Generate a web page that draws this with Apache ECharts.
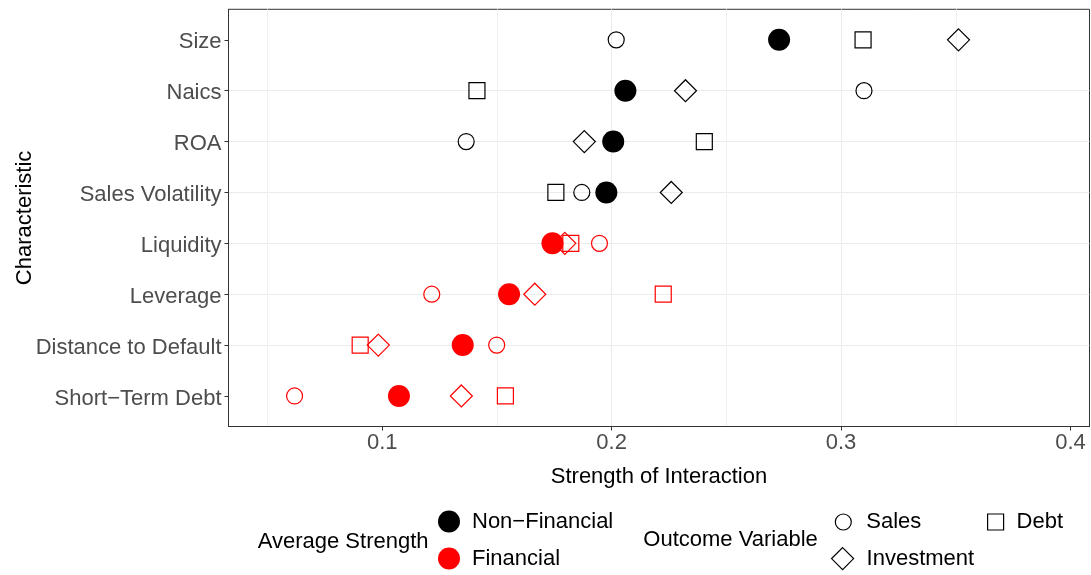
<!DOCTYPE html>
<html><head><meta charset="utf-8">
<script src="https://cdn.jsdelivr.net/npm/echarts@6/dist/echarts.min.js"></script>
<style>html,body{margin:0;padding:0;background:#fff}#c{width:1091px;height:575px}</style>
</head><body><div id="c"></div>
<script>
// ---- data (top to bottom) ----
const categories = ['Size', 'Naics', 'ROA', 'Sales Volatility', 'Liquidity', 'Leverage', 'Distance to Default', 'Short\u2212Term Debt'];
const groups = ['Non\u2212Financial', 'Non\u2212Financial', 'Non\u2212Financial', 'Non\u2212Financial', 'Financial', 'Financial', 'Financial', 'Financial'];
const avgStrength = [0.2730, 0.2060, 0.2007, 0.1977, 0.1742, 0.1553, 0.1351, 0.1073];
const sales = [0.2020, 0.3100, 0.1366, 0.1870, 0.1947, 0.1216, 0.1499, 0.0618];
const investment = [0.3512, 0.2322, 0.1881, 0.2260, 0.1796, 0.1665, 0.0983, 0.1345];
const debt = [0.3096, 0.1413, 0.2404, 0.1757, 0.1822, 0.2225, 0.0904, 0.1537];
const xTicks = [0.1, 0.2, 0.3, 0.4];
const groupNames = ['Non\u2212Financial', 'Financial'];
const groupColors = { 'Non\u2212Financial': '#000000', 'Financial': '#ff0000' };

const FONT = '"Liberation Sans", Arial, Helvetica, sans-serif';
const FS = 22;
const yTickValues = categories.map((c, i) => i + 1);

function outcomePoints(values) {
  return values.map((v, i) => ({ value: [v, i + 1], itemStyle: { borderColor: groupColors[groups[i]] } }));
}
function avgPoints(group) {
  const out = [];
  avgStrength.forEach((v, i) => { if (groups[i] === group) out.push([v, i + 1]); });
  return out;
}
const hollow = { color: 'rgba(0,0,0,0)', borderColor: '#000', borderWidth: 1.2, opacity: 1 };
function legendText(pad) { return { fontSize: FS, color: '#000', fontFamily: FONT, padding: [0, 0, 0, pad] }; }

const chart = echarts.init(document.getElementById('c'), null, { renderer: 'canvas' });
const option = {
  animation: false,
  backgroundColor: '#ffffff',
  textStyle: { fontFamily: FONT },
  grid: { left: 228.5, top: 9.3, width: 861, height: 417.2, containLabel: false, outerBoundsMode: 'none', show: true, borderColor: '#333333', borderWidth: 1, backgroundColor: 'rgba(0,0,0,0)' },
  xAxis: {
    type: 'value', min: 0.033, max: 0.4083, splitNumber: 4, minInterval: 0.1, maxInterval: 0.1,
    axisLine: { show: true, onZero: false, lineStyle: { color: '#333333', width: 1 } },
    axisTick: { show: true, length: 4, customValues: xTicks, lineStyle: { color: '#333333' } },
    axisLabel: { customValues: xTicks, formatter: v => Number(v).toFixed(1), fontSize: FS, color: '#4d4d4d', margin: 5, fontFamily: FONT },
    splitLine: { show: true, showMinLine: false, showMaxLine: false, lineStyle: { color: '#ebebeb', width: 1 } },
    minorTick: { show: false, splitNumber: 2 },
    minorSplitLine: { show: true, lineStyle: { color: '#f0f0f0', width: 1 } },
    name: 'Strength of Interaction', nameLocation: 'middle', nameGap: 39, nameMoveOverlap: false,
    nameTextStyle: { fontSize: FS, color: '#000', fontFamily: FONT }
  },
  yAxis: {
    type: 'value', inverse: true, min: 0.4, max: 8.6, splitNumber: 8, minInterval: 1, maxInterval: 1,
    axisLine: { show: true, onZero: false, lineStyle: { color: '#333333', width: 1 } },
    axisTick: { show: true, length: 4, customValues: yTickValues, lineStyle: { color: '#333333' } },
    axisLabel: {
      customValues: yTickValues,
      formatter: v => { const c = categories[Math.round(v) - 1]; return c ? '{a|' + c + '}' : ''; },
      margin: 7,
      rich: { a: { fontSize: FS, color: '#4d4d4d', fontFamily: FONT, padding: [5, 0, 0, 0] } }
    },
    splitLine: { show: true, showMinLine: false, showMaxLine: false, lineStyle: { color: '#ebebeb', width: 1 } },
    name: 'Characteristic', nameLocation: 'middle', nameGap: 193, nameRotate: 90, nameMoveOverlap: false,
    nameTextStyle: { fontSize: FS, color: '#000', fontFamily: FONT }
  },
  legend: [
    {
      data: groupNames.map(n => ({ name: n, icon: 'circle', itemStyle: { color: groupColors[n], borderWidth: 0, opacity: 1 } })),
      orient: 'vertical', left: 438, top: 510.5, padding: 0, itemWidth: 22, itemHeight: 22, itemGap: 15,
      selectedMode: false, textStyle: legendText(7)
    },
    {
      data: [{ name: 'Sales', icon: 'circle', itemStyle: hollow }],
      left: 834.7, top: 511, padding: 0, itemWidth: 16, itemHeight: 16,
      selectedMode: false, textStyle: legendText(10)
    },
    {
      data: [{ name: 'Investment', icon: 'diamond', itemStyle: hollow }],
      left: 831, top: 547, padding: 0, itemWidth: 22, itemHeight: 22,
      selectedMode: false, textStyle: legendText(8)
    },
    {
      data: [{ name: 'Debt', icon: 'rect', itemStyle: hollow }],
      left: 987, top: 511, padding: 0, itemWidth: 16, itemHeight: 16,
      selectedMode: false, textStyle: legendText(8)
    }
  ],
  graphic: [
    { type: 'text', x: 257.7, y: 541.5, style: { text: 'Average Strength', fontSize: FS, fill: '#000', fontFamily: FONT, verticalAlign: 'middle' } },
    { type: 'text', x: 643.3, y: 540, style: { text: 'Outcome Variable', fontSize: FS, fill: '#000', fontFamily: FONT, verticalAlign: 'middle' } }
  ],
  series: [
    { name: 'Debt', type: 'scatter', symbol: 'rect', symbolSize: 16, itemStyle: hollow, emphasis: { disabled: true }, data: outcomePoints(debt) },
    { name: 'Investment', type: 'scatter', symbol: 'diamond', symbolSize: 22, itemStyle: hollow, emphasis: { disabled: true }, data: outcomePoints(investment) },
    { name: 'Sales', type: 'scatter', symbol: 'circle', symbolSize: 16, itemStyle: hollow, emphasis: { disabled: true }, data: outcomePoints(sales) },
    ...groupNames.map(g => ({ name: g, type: 'scatter', symbol: 'circle', symbolSize: 22, itemStyle: { color: groupColors[g], opacity: 1 }, emphasis: { disabled: true }, data: avgPoints(g) }))
  ]
};
chart.setOption(option);
</script>
</body></html>
